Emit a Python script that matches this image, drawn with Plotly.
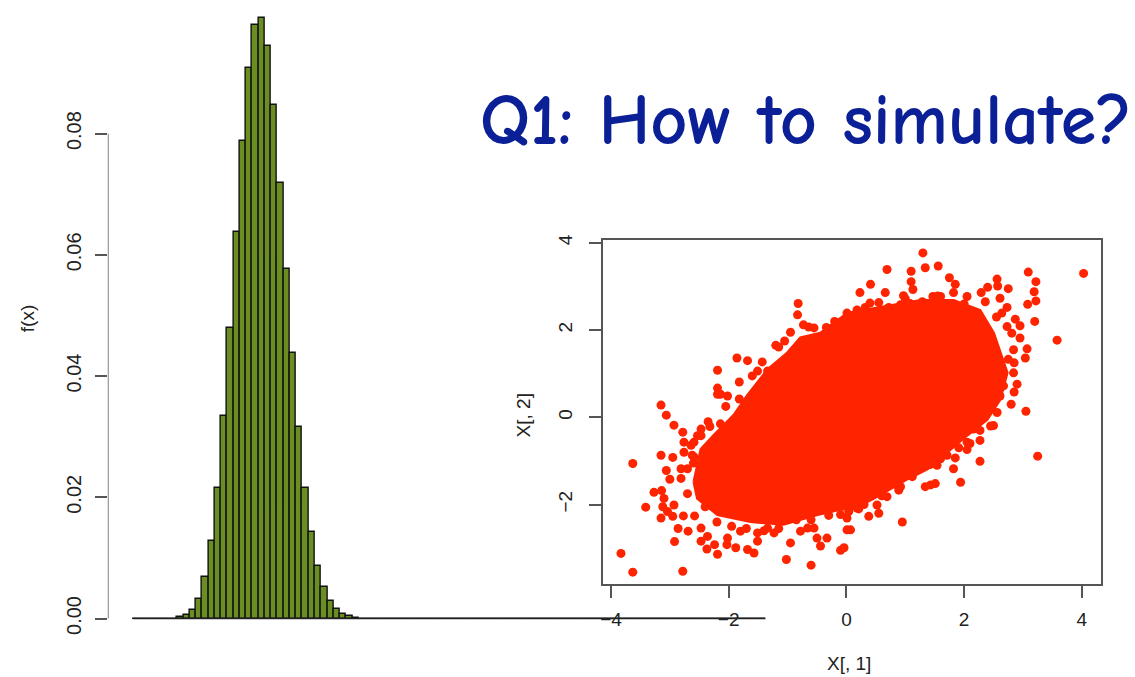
import plotly.graph_objects as go

# ---------------- Histogram data (probability mass per integer bin) ----------------
bin_x = list(range(101))
bin_density = [
    0, 0, 0, 0, 0, 0, 0, 0.0002, 0.00055, 0.0014,
    0.0033, 0.0068, 0.0128, 0.0215, 0.0334, 0.0480, 0.0637, 0.0788, 0.0908, 0.0979,
    0.0991, 0.0944, 0.0848, 0.0718, 0.0576, 0.0438, 0.0316, 0.0216, 0.0142, 0.0087,
    0.0052, 0.0029, 0.0016, 0.0008, 0.0004, 0.00015, 0, 0, 0, 0,
    0, 0, 0, 0, 0, 0, 0, 0, 0, 0,
    0, 0, 0, 0, 0, 0, 0, 0, 0, 0,
    0, 0, 0, 0, 0, 0, 0, 0, 0, 0,
    0, 0, 0, 0, 0, 0, 0, 0, 0, 0,
    0, 0, 0, 0, 0, 0, 0, 0, 0, 0,
    0, 0, 0, 0, 0, 0, 0, 0, 0, 0,
    0,
]
hist_yticks = [0, 0.02, 0.04, 0.06, 0.08]
hist_yticklabels = ["0.00", "0.02", "0.04", "0.06", "0.08"]

# ---------------- Scatter data: dense core outline + individual points ----------------
core_x = [-2.59, -2.47, -2.25, -1.91, -1.68, -1.34, -1.00, -0.78, -0.44, 0.02, 0.70, 1.26,
          1.82, 2.27, 2.50, 2.61, 2.73, 2.61, 2.39, 2.05, 1.71, 1.38, 1.04, 0.75, 0.46,
          0.12, -0.10, -0.49, -1.07, -1.63, -2.19, -2.53]
core_y = [-1.48, -0.73, -0.41, 0.05, 0.50, 1.09, 1.48, 1.82, 1.93, 2.39, 2.55, 2.68,
          2.68, 2.45, 1.93, 1.48, 1.02, 0.41, -0.05, -0.41, -0.80, -1.18, -1.41, -1.64, -1.86,
          -2.09, -2.11, -2.23, -2.45, -2.39, -2.23, -1.86]

pts_x = [-0.82, -0.83, -0.73, -0.64, -1.15, -1.86, -1.68, -1.43, -2.19, -1.51, -1.34, -1.82,
         -2.19, -2.14, -2.02, -1.82, -3.15, -3.06, -2.93, -2.78, -2.32, -2.14, -3.63, -3.15,
         -2.95, -2.76, -2.64, -2.47, -3.06, -2.81, -2.62, -2.19, -3.00, -3.27, -3.14, -3.41,
         -3.12, -3.15, -2.95, -2.77, -2.58, -2.86, -2.69, -2.47, -2.36, -2.47, -2.92, -2.37,
         -2.19, -2.24, -2.02, -2.03, -1.88, -1.68, -1.57, -1.51, -1.80, -1.51, -1.34, -1.23,
         -3.83, -3.63, -2.78, -0.95, -1.02, -0.60, -0.44, -0.33, -0.50, -0.10, -0.04, 0.01,
         -0.10, 0.04, 0.18, -0.78, -0.66, -0.55, -2.47, -2.53, -3.04, -2.93, -3.10, -2.81,
         -2.70, -2.59, -2.76, -2.59,
         1.30, 0.69, 1.10, 1.34, 1.56, 4.03, 3.09, 3.22, 3.19, 3.22, 3.08, 3.20, 3.58, 0.41,
         0.23, 0.66, 1.10, 1.13, 0.97, 1.75, 1.85, 1.82, 1.60, 1.47, 2.05, 2.29, 2.40, 2.56,
         2.57, 2.75, 2.61, 2.36, 2.73, 2.64, 2.87, 2.95, 2.73, 2.81, 2.95, 3.07, 3.04, 2.84,
         2.75, 2.84, 2.90, 2.85, 2.67, 2.61, 3.05, 2.50, 2.56, 2.33, -0.34, -0.18, 0.01, 0.18,
         0.32, 0.55, 0.72, 0.92, 1.08, 1.29,
         3.25, 2.27, 1.82, 1.94, 0.95, 2.27, 2.27, 2.27, 2.05, 1.91, 2.05, 2.16, 1.71, 1.85,
         1.54, 1.43, 1.43, 1.51, 1.34, 1.12, 0.92, 0.89, 0.69, 0.52, 0.55, 0.38, 0.21, 0.01,
         0.07, 1.46, 1.31, 1.17,
         -1.20, -1.05, -0.95, -1.60, -2.05, -2.35, -2.60, -2.70, -2.40, -2.20, -1.95, -1.70,
         -1.40, -1.15, -0.85, -0.60, -0.30, 0.30, 0.60, 0.85, 1.60, 2.10, 2.45, 2.80, 2.85,
         2.55, -0.55, -0.20, 0.40, 1.00, 1.55, 2.00]
pts_y = [2.61, 2.35, 2.12, 2.07, 1.61, 1.36, 1.30, 1.27, 1.08, 1.06, 1.06, 0.81,
         0.67, 0.53, 0.49, 0.42, 0.28, 0.05, -0.18, -0.34, -0.21, -0.15, -1.06, -0.87,
         -0.92, -0.80, -0.64, -0.42, -1.22, -1.18, -0.87, 0.53, -1.42, -1.72, -1.68, -2.06,
         -2.05, -2.31, -2.27, -2.26, -2.26, -2.55, -2.61, -2.54, -2.73, -2.84, -2.85, -3.02,
         -3.14, -2.92, -2.77, -2.92, -2.99, -3.03, -3.11, -2.84, -2.61, -2.65, -2.54, -2.65,
         -3.12, -3.55, -3.53, -2.88, -3.26, -3.39, -2.95, -2.77, -2.77, -3.05, -2.99, -2.58,
         -2.23, -2.16, -2.08, -2.61, -2.54, -2.54, -0.27, -0.42, -2.16, -2.01, -1.86, -1.40,
         -1.18, -0.91, -0.57, -0.57,
         3.77, 3.39, 3.35, 3.43, 3.47, 3.30, 3.33, 3.11, 2.88, 2.67, 2.59, 2.20, 1.77, 3.05,
         2.86, 2.86, 3.11, 2.93, 2.79, 3.20, 3.05, 2.86, 2.77, 2.77, 2.77, 2.86, 2.98, 3.17,
         3.01, 2.95, 2.73, 2.65, 2.52, 2.39, 2.25, 2.10, 2.08, 1.93, 1.82, 1.57, 1.36, 1.55,
         1.33, 1.02, 0.76, 0.58, 0.72, 0.49, 0.14, -0.19, 0.11, 0.08, 2.06, 2.12, 2.39, 2.46,
         2.52, 2.63, 2.52, 2.58, 2.61, 2.65,
         -0.89, -1.01, -1.18, -1.49, -2.40, 0.04, -0.30, -0.53, -0.57, -0.70, -0.74, -0.27, -0.87, -0.93,
         -1.10, -1.08, -1.55, -1.52, -1.59, -1.36, -1.59, -1.67, -1.82, -2.01, -2.20, -2.27, -2.10, -2.31,
         -2.58, -0.72, -0.87, -1.02,
         1.65, 1.75, 1.95, 0.95, 0.25, -0.10, -1.05, -1.75, -2.05, -2.40, -2.50, -2.55,
         -2.60, -2.55, -2.35, -2.35, -2.25, -2.00, -1.80, -1.55, -0.95, -0.60, -0.20, 0.30, 1.25,
         2.30, 2.05, 2.20, 2.62, 2.72, 2.78, 2.60]
scatter_xticks = [-4, -2, 0, 2, 4]
scatter_yticks = [-2, 0, 2, 4]

# ---------------- Styling ----------------
W, H = 1135, 677
FONT = "Liberation Sans, Arial, Helvetica, sans-serif"
BAR_GREEN = "#6b8e23"
RED = "#ff2400"
AXIS_COL = "#555555"
TXT = "#222222"

fig = go.Figure()

fig.add_trace(go.Bar(
    x=bin_x, y=bin_density, width=1.0,
    marker=dict(color=BAR_GREEN, line=dict(color="#111111", width=1.4)),
    xaxis="x", yaxis="y", showlegend=False, hoverinfo="skip",
))
fig.add_trace(go.Scatter(
    x=[bin_x[0] - 0.5, bin_x[-1] + 0.5], y=[0, 0], mode="lines",
    line=dict(color="#222222", width=1.3), xaxis="x", yaxis="y",
    showlegend=False, hoverinfo="skip",
))
fig.add_trace(go.Scatter(
    x=[-4.57, -4.57], y=[hist_yticks[0], hist_yticks[-1]], mode="lines",
    line=dict(color=AXIS_COL, width=1.5), xaxis="x", yaxis="y",
    showlegend=False, hoverinfo="skip", cliponaxis=False,
))

fig.add_trace(go.Scatter(
    x=core_x + [core_x[0]], y=core_y + [core_y[0]], mode="lines", fill="toself",
    fillcolor=RED, line=dict(color=RED, width=3), xaxis="x2", yaxis="y2",
    showlegend=False, hoverinfo="skip",
))
fig.add_trace(go.Scatter(
    x=pts_x, y=pts_y, mode="markers", marker=dict(color=RED, size=9),
    xaxis="x2", yaxis="y2", showlegend=False, hoverinfo="skip",
))

fig.update_layout(
    width=W, height=H,
    margin=dict(l=0, r=0, t=0, b=0),
    paper_bgcolor="white", plot_bgcolor="rgba(0,0,0,0)",
    font=dict(family=FONT, color=TXT, size=19),
    bargap=0,
    xaxis=dict(domain=[106 / W, 790 / W], range=[-4.57, 104.52], visible=False),
    yaxis=dict(domain=[1 - 640 / H, 1], range=[-0.0036, 0.10106],
               tickvals=hist_yticks, ticktext=hist_yticklabels,
               ticks="outside", ticklen=12, tickwidth=1.5, tickcolor=AXIS_COL,
               tickangle=-90, tickfont=dict(size=20, color=TXT),
               ticklabelstandoff=6,
               showline=False, showgrid=False, zeroline=False),
    xaxis2=dict(domain=[601.7 / W, 1101 / W], range=[-4.142, 4.327], anchor="y2",
                tickvals=scatter_xticks, ticks="outside", ticklen=12, tickwidth=1.5,
                tickcolor=AXIS_COL, showline=True, linecolor=AXIS_COL, linewidth=1.5,
                mirror=True, showgrid=False, zeroline=False,
                tickfont=dict(size=19, color=TXT), ticklabelstandoff=5),
    yaxis2=dict(domain=[1 - 583.3 / H, 1 - 236 / H], range=[-3.825, 4.068], anchor="x2",
                tickvals=scatter_yticks, ticks="outside", ticklen=12, tickwidth=1.5,
                tickcolor=AXIS_COL, showline=True, linecolor=AXIS_COL, linewidth=1.5,
                mirror=True, showgrid=False, zeroline=False, tickangle=-90,
                tickfont=dict(size=19, color=TXT), ticklabelstandoff=9),
    annotations=[
        dict(text="f(x)", x=25 / W, y=1 - 315 / H, xref="paper", yref="paper",
             xanchor="center", yanchor="middle",
             showarrow=False, textangle=-90, font=dict(size=19, color=TXT)),
        dict(text="X[, 1]", x=848 / W, y=1 - 663 / H, xref="paper", yref="paper",
             xanchor="center", yanchor="middle",
             showarrow=False, font=dict(size=19, color=TXT)),
        dict(text="X[, 2]", x=522 / W, y=1 - 413 / H, xref="paper", yref="paper",
             xanchor="center", yanchor="middle",
             showarrow=False, textangle=-90, font=dict(size=19, color=TXT)),
        dict(text="<b>Q1: How to simulate?</b>", x=805 / W, y=1 - 116 / H, xref="paper",
             yref="paper", xanchor="center", yanchor="middle", showarrow=False,
             font=dict(family="Comic Sans MS, Comic Neue, Lato, Noto Sans, sans-serif",
                       size=72, color="#0b2096")),
    ],
)

fig.write_html("out.html")
